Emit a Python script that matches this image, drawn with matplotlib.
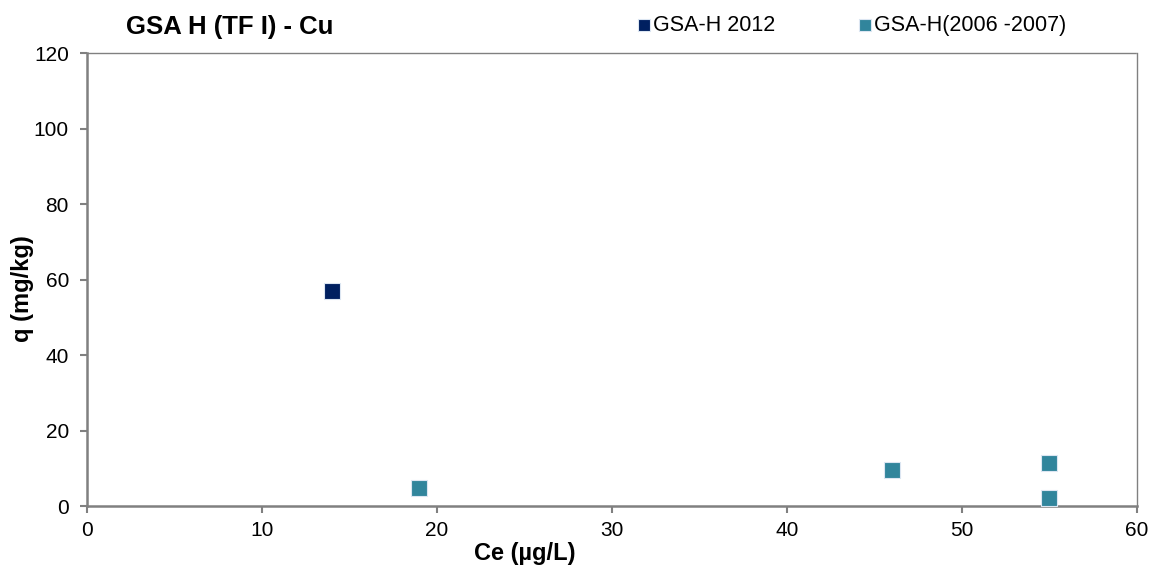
import matplotlib.pyplot as plt

plt.rcParams["font.family"] = ["Liberation Sans", "DejaVu Sans"]

# GSA-H 2012
ce_2012 = [14]
q_2012 = [57]

# GSA-H (2006-2007)
ce_0607 = [19, 46, 55, 55]
q_0607 = [4.8, 9.5, 11.5, 2.0]

x_ticks = [0, 10, 20, 30, 40, 50, 60]
y_ticks = [0, 20, 40, 60, 80, 100, 120]

fig = plt.figure(figsize=(11.53, 5.65), dpi=100)
ax = fig.add_axes([0.0755, 0.1044, 0.9105, 0.8016])

ax.scatter(ce_2012, q_2012, marker="s", s=118, color="#002060",
           edgecolors="#dce6f2", linewidths=0.8, label="GSA-H 2012", zorder=3)
ax.scatter(ce_0607, q_0607, marker="s", s=118, color="#31859c",
           edgecolors="#dce6f2", linewidths=0.8, label="GSA-H(2006 -2007)", zorder=3)

ax.set_xlim(0, 60)
ax.set_ylim(0, 120)
ax.set_xticks(x_ticks)
ax.set_yticks(y_ticks)
ax.tick_params(direction="out", length=5, width=1.5, color="#808080",
               labelsize=15)
ax.tick_params(axis="x", pad=6)
ax.tick_params(axis="y", pad=8)

for side in ("left", "bottom"):
    ax.spines[side].set_color("#808080")
    ax.spines[side].set_linewidth(1.8)
for side in ("top", "right"):
    ax.spines[side].set_color("#808080")
    ax.spines[side].set_linewidth(1.0)
    ax.spines[side].set_linestyle((0, (1, 1)))

ax.set_xlabel("Ce (µg/L)", fontsize=17, fontweight="bold")
ax.xaxis.set_label_coords(0.417, -0.104)
ax.xaxis.label.set_verticalalignment("center")
ax.set_ylabel("q (mg/kg)", fontsize=17, fontweight="bold")
ax.yaxis.set_label_coords(-0.0619, 0.479)
ax.yaxis.label.set_verticalalignment("center")

fig.text(0.1995, 0.952, "GSA H (TF I) - Cu", fontsize=18.5, fontweight="bold",
         ha="center", va="center")

leg = ax.legend(loc="center left", bbox_to_anchor=(0.553, 0.955),
                bbox_transform=fig.transFigure, ncol=2, frameon=False,
                fontsize=15.5, handlelength=0.55, handletextpad=0.15,
                columnspacing=3.9, markerscale=0.8, borderpad=0,
                borderaxespad=0)

fig.savefig("out.png", dpi=100)
